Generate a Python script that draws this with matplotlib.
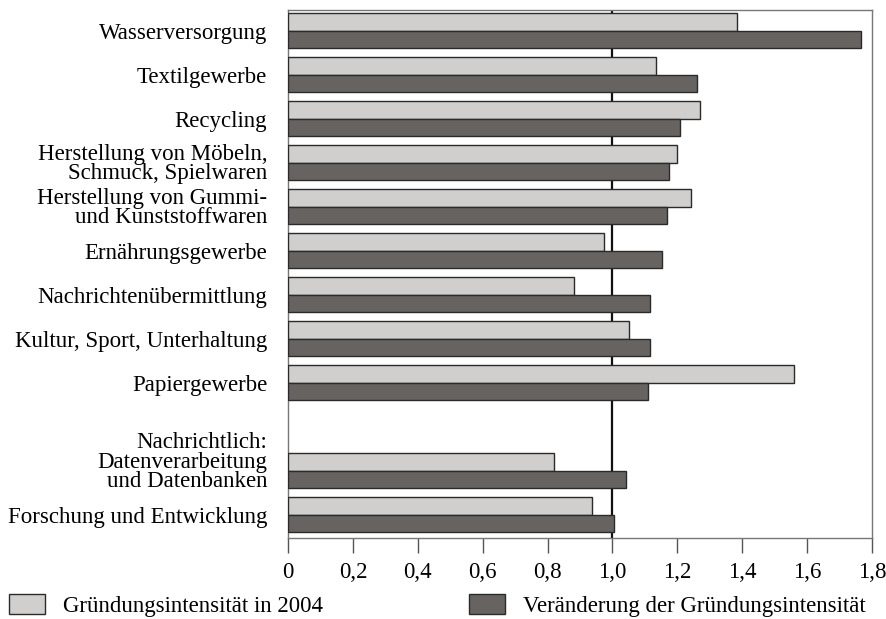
import matplotlib.pyplot as plt
import numpy as np
from matplotlib.ticker import FuncFormatter

plt.rcParams['font.family'] = ['Liberation Serif', 'DejaVu Serif']

categories = ['Wasserversorgung', 'Textilgewerbe', 'Recycling',
              'Herstellung von Möbeln,\nSchmuck, Spielwaren',
              'Herstellung von Gummi-\nund Kunststoffwaren',
              'Ernährungsgewerbe', 'Nachrichtenübermittlung',
              'Kultur, Sport, Unterhaltung', 'Papiergewerbe',
              '', 'Datenverarbeitung\nund Datenbanken',
              'Forschung und Entwicklung']
intensity_2004 = [1.385, 1.134, 1.271, 1.199, 1.241, 0.973, 0.882, 1.051, 1.561,
                  np.nan, 0.821, 0.937]
change = [1.766, 1.260, 1.207, 1.174, 1.169, 1.153, 1.116, 1.115, 1.109,
          np.nan, 1.041, 1.006]
note_label = 'Nachrichtlich:'
series_names = ['Gründungsintensität in 2004', 'Veränderung der Gründungsintensität']
xticks = [0, 0.2, 0.4, 0.6, 0.8, 1.0, 1.2, 1.4, 1.6, 1.8]

light = '#d0cfcd'
dark = '#676361'
edge = '#2a2a2a'
fs = 16.5

fig = plt.figure(figsize=(8.87, 6.19), dpi=100)
ax = fig.add_axes([0.3247, 0.1309, 0.983 - 0.3247, 0.9845 - 0.1309])

y = np.arange(len(categories))
h = 0.4
ax.barh(y - h / 2, intensity_2004, height=h, color=light, edgecolor=edge,
        linewidth=1.0, label=series_names[0], zorder=3)
ax.barh(y + h / 2, change, height=h, color=dark, edgecolor=edge,
        linewidth=1.0, label=series_names[1], zorder=3)
ax.axvline(1.0, color='#111111', linewidth=1.6, zorder=2)

ax.set_xlim(0, 1.8)
ax.set_ylim(len(categories) - 1 + 0.53, -0.48)
ax.set_yticks(y)
ax.set_yticklabels(categories, fontsize=fs, linespacing=0.86, multialignment='right')
ax.tick_params(axis='y', length=0, pad=15)
ax.text(-0.036, 9.35, note_label, transform=ax.get_yaxis_transform(),
        ha='right', va='center', fontsize=fs)

ax.set_xticks(xticks)
ax.xaxis.set_major_formatter(FuncFormatter(lambda v, p: ('%g' % v if v == 0 else '%.1f' % v).replace('.', ',')))
ax.tick_params(axis='x', direction='out', length=11, width=1.0, color='#555555',
               labelsize=fs, pad=6)
for s in ax.spines.values():
  s.set_color('#777777')
  s.set_linewidth(1.0)

fig.legend(loc='lower left', bbox_to_anchor=(-0.013, -0.03), ncol=2, frameon=False,
           fontsize=fs, handlelength=1.58, handleheight=1.0, handletextpad=0.77,
           columnspacing=6.38)

plt.savefig('out.png', dpi=100)
